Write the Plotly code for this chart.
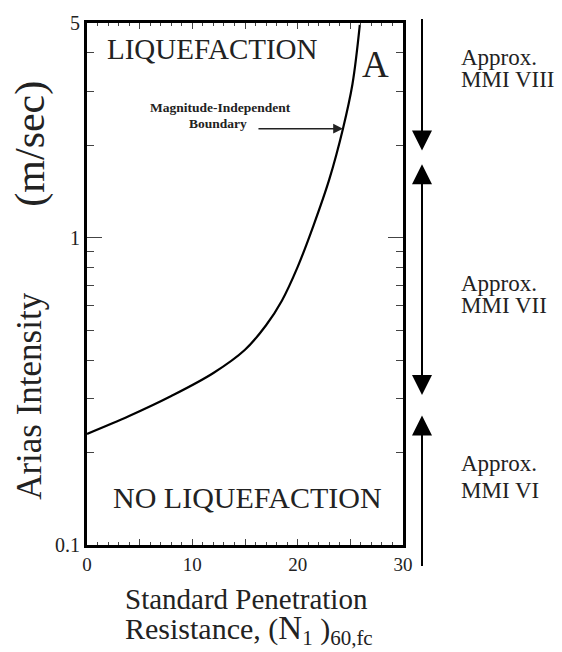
import math
import plotly.graph_objects as go

# Data: magnitude-independent boundary
spt_n = [0, 4, 8, 12, 15, 17, 18.5, 20, 21.5, 23, 24.3, 25.2, 25.9]
arias = [0.23, 0.263, 0.3055, 0.363, 0.432, 0.519, 0.624, 0.804, 1.096, 1.549, 2.265, 3.16, 4.93]

x_ticks = [0, 5, 10, 15, 20, 25, 30]
x_tick_text = ["0", "", "10", "", "20", "", "30"]
y_ticks = [0.1, 1, 5]
y_tick_text = ["0.1", "1", "5"]
y_minor = [0.2, 0.3, 0.4, 0.5, 0.6, 0.7, 0.8, 0.9, 2, 3, 4]

FONT = "Liberation Serif, Times New Roman, serif"
TXT = "#222222"

fig = go.Figure()
fig.add_trace(go.Scatter(x=spt_n, y=arias, mode="lines",
                         line=dict(color="black", width=2.2, shape="spline", smoothing=1.0),
                         showlegend=False, hoverinfo="skip"))

L, R, T, B = 87, 159, 13, 107
W, H = 562, 652
pw, ph = W - L - R, H - T - B


def px(xp):
    return (xp - L) / pw


def py(yp):
    return (H - B - yp) / ph


fig.update_layout(
    width=W, height=H,
    margin=dict(l=L, r=R, t=T, b=B),
    paper_bgcolor="white", plot_bgcolor="white",
    font=dict(family=FONT, color=TXT, size=16),
    showlegend=False,
    xaxis=dict(range=[0, 30], tickvals=x_ticks, ticktext=x_tick_text, ticks="inside",
               ticklen=6, tickwidth=1,
               showline=True, linewidth=3, linecolor="black", mirror="allticks",
               showgrid=False, zeroline=False, tickfont=dict(size=19, color=TXT),
               minor=dict(dtick=1, ticks="inside", ticklen=3, tickwidth=1, showgrid=False)),
    yaxis=dict(type="log", range=[-1, 0.69897], tickvals=y_ticks, ticktext=y_tick_text,
               ticks="inside", ticklen=15, tickwidth=1,
               showline=True, linewidth=3, linecolor="black", mirror="allticks",
               showgrid=False, zeroline=False, tickfont=dict(size=20, color=TXT),
               minor=dict(tickvals=y_minor, ticks="inside", ticklen=7, tickwidth=1, showgrid=False)),
)

ann = []


def txt(xp, yp, t, size, xanchor="center", angle=0, bold=False):
    ann.append(dict(x=px(xp), y=py(yp), xref="paper", yref="paper",
                    text=f"<b>{t}</b>" if bold else t, textangle=angle, showarrow=False,
                    xanchor=xanchor, yanchor="middle", font=dict(size=size, color=TXT)))


# axis titles
txt(30, 393, "Arias Intensity", 35, angle=-90)
txt(31, 136, "(m/sec)", 42, angle=-90)
txt(123, 600, "Standard Penetration", 29, xanchor="left")
txt(123, 632, "Resistance, (<span style='font-size:33px'>N</span><sub>1</sub> )<sub>60,fc</sub>",
    30, xanchor="left")

# in-plot labels
txt(212, 39, "LIQUEFACTION", 29)
txt(247, 497, "NO LIQUEFACTION", 30)
txt(375, 55, "A", 37)
txt(220, 99, "Magnitude-Independent", 13.5, bold=True)
txt(218, 115, "Boundary", 13.5, bold=True)

# pointer arrow to boundary (log axis: annotation y given as log10 value)
ann.append(dict(x=24.3, y=math.log10(2.265), xref="x", yref="y", axref="pixel", ayref="pixel",
                ax=-86, ay=0, text="", showarrow=True, arrowhead=2, arrowsize=1.3,
                arrowwidth=1.5, arrowcolor="#222"))

# MMI arrows outside the plot
ax_x = px(422)
for tip, tail in [(143, 10), (157, 275), (392, 275), (413, 565)]:
    ann.append(dict(x=ax_x, y=py(tip), xref="paper", yref="paper", ax=0, ay=tail - tip,
                    text="", showarrow=True, arrowhead=2, arrowsize=2, arrowwidth=2,
                    arrowcolor="black"))

for y1, y2, t2 in [(48, 71, "MMI VIII"), (278, 301, "MMI VII"), (462, 489, "MMI VI")]:
    txt(459, y1, "Approx.", 23, xanchor="left")
    txt(459, y2, t2, 23, xanchor="left")

fig.update_layout(annotations=ann)
fig.write_html("out.html", config={"displayModeBar": False})

with open("out.html", "r", encoding="utf-8") as f:
    html = f.read()
html = html.replace("<head>", "<head><style>html,body{margin:0;padding:0;}</style>", 1)
with open("out.html", "w", encoding="utf-8") as f:
    f.write(html)
